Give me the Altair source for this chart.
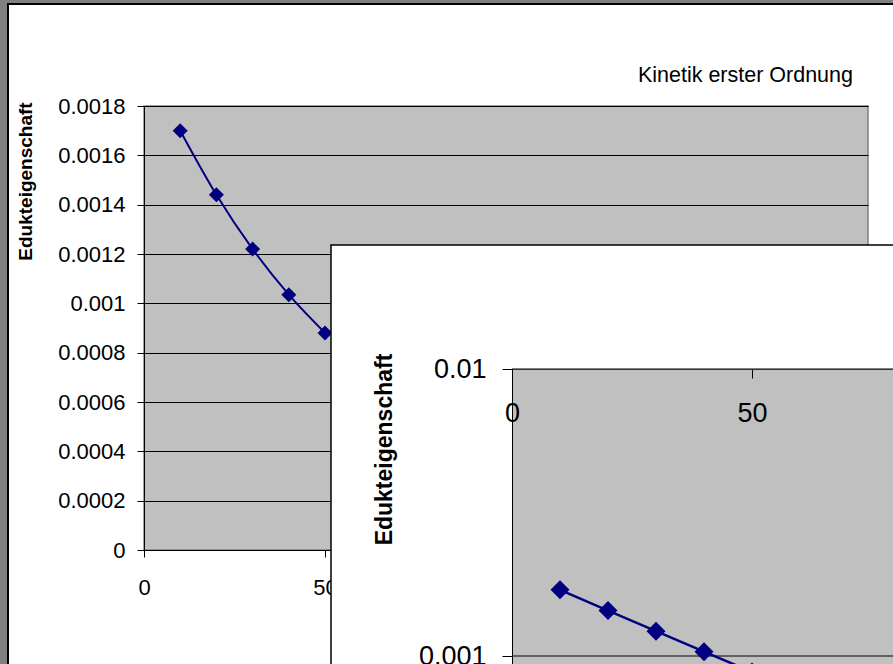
import altair as alt
import pandas as pd

# ---- data ----
time_min = [10, 20, 30, 40, 50]
edukt = [0.0017, 0.00144, 0.00122, 0.001035, 0.00088]
y_ticks_lin = [0, 0.0002, 0.0004, 0.0006, 0.0008, 0.001, 0.0012, 0.0014, 0.0016, 0.0018]
x_ticks = [0, 50, 100, 150, 200]
x_ticks_log_chart = [0, 50]
y_ticks_log = [0.001, 0.01]
title_text = "Kinetik erster Ordnung"
y_title = "Edukteigenschaft"

df = pd.DataFrame({"t": time_min, "v": edukt})
grid_df = pd.DataFrame({"g": y_ticks_log})

FONT = "Liberation Sans"
NAVY = "#000080"
GRAY = "#C0C0C0"

# main plot area (pixels) and its origin on the page
W, H = 724, 444
LEFT, TOP = 144, 106
PAGE_W, PAGE_H = 893, 664

one = alt.Data(values=[{}])


def box(x, x2, y, y2, color, **kw):
    """decoration rectangle in page pixels (converted to plot-relative)."""
    return alt.Chart(one).mark_rect(color=color, **kw).encode(
        x=alt.value(x - LEFT), x2=alt.value(x2 - LEFT),
        y=alt.value(y - TOP), y2=alt.value(y2 - TOP))


# window frame
frame = [
    box(0, 7, 0, PAGE_H, "#808080"),
    box(0, PAGE_W, 0, 3, "#808080"),
    box(7, 9, 3, PAGE_H, "black"),
    box(7, PAGE_W, 3, 5, "black"),
]

# ---- chart 1 : linear ----
x1 = alt.Scale(domain=[0, 200], nice=False)
y1 = alt.Scale(domain=[0, 0.0018], nice=False)
ax1x = alt.Axis(values=x_ticks, format="d", title=None, grid=False, tickSize=7,
                labelPadding=20, labelFontSize=22, labelFlush=False, labelColor="black",
                domainColor="black", tickColor="black")
ax1y = alt.Axis(values=y_ticks_lin, format="~g", title=y_title, grid=True,
                gridColor="black", gridOpacity=1, gridWidth=1, tickSize=7,
                labelPadding=12, labelFontSize=22, labelColor="black",
                domainColor="black", tickColor="black",
                titleFontSize=19, titleFontWeight="bold", titleColor="black",
                titleX=-119, titleY=75, titleAngle=270, titleAlign="center",
                titleBaseline="middle")

line1 = alt.Chart(df).mark_line(color=NAVY, strokeWidth=2, interpolate="monotone").encode(
    x=alt.X("t:Q", scale=x1, axis=ax1x), y=alt.Y("v:Q", scale=y1, axis=ax1y))
pts1 = alt.Chart(df).mark_point(shape="diamond", filled=True, size=225, color=NAVY, opacity=1).encode(
    x=alt.X("t:Q", scale=x1, axis=ax1x), y=alt.Y("v:Q", scale=y1, axis=ax1y))
chart1 = alt.layer(line1, pts1)

# ---- chart 2 : logarithmic, lying on top ----
x2s = alt.Scale(domain=[0, 200], range=[368, 1328], nice=False)
y2s = alt.Scale(type="log", domain=[0.0001, 0.01], range=[837, 263], nice=False)
ax2x = alt.Axis(values=x_ticks_log_chart, format="d", title=None, grid=False, orient="bottom",
                offset=-181, tickSize=9, labelPadding=22, labelFontSize=27,
                labelFlush=False, labelColor="black", domainColor="#333333",
                tickColor="black", zindex=1)
ax2y = alt.Axis(values=y_ticks_log, format="~g", title=y_title, grid=False, orient="left",
                offset=-368, tickSize=10, labelPadding=16, labelFontSize=27,
                labelColor="black", domainColor="black", tickColor="black", zindex=1,
                titleFontSize=23, titleFontWeight="bold", titleColor="black",
                titleX=-128, titleY=343, titleAngle=270, titleAlign="center",
                titleBaseline="middle")

panel2 = box(331, PAGE_W + 20, 245, PAGE_H + 20, "white", stroke="black", strokeWidth=1.5)
plot2 = alt.Chart(one).mark_rect(color=GRAY).encode(
    x=alt.X(datum=0, type="quantitative", scale=x2s, axis=ax2x), x2=alt.X2(datum=200),
    y=alt.Y(datum=0.01, type="quantitative", scale=y2s, axis=ax2y), y2=alt.Y2(datum=0.0001))
grid2 = alt.Chart(grid_df).mark_rule(color="black", strokeWidth=1).encode(
    y=alt.Y("g:Q", scale=y2s, axis=ax2y),
    x=alt.X(datum=0, type="quantitative", scale=x2s, axis=ax2x), x2=alt.X2(datum=200))
line2 = alt.Chart(df).mark_line(color=NAVY, strokeWidth=2.5).encode(
    x=alt.X("t:Q", scale=x2s, axis=ax2x), y=alt.Y("v:Q", scale=y2s, axis=ax2y))
pts2 = alt.Chart(df).mark_point(shape="diamond", filled=True, size=361, color=NAVY, opacity=1).encode(
    x=alt.X("t:Q", scale=x2s, axis=ax2x), y=alt.Y("v:Q", scale=y2s, axis=ax2y))
chart2 = alt.layer(panel2, plot2, grid2, line2, pts2)

chart = alt.layer(*frame, chart1, chart2).resolve_scale(
    x="independent", y="independent").resolve_axis(x="independent", y="independent").properties(
    width=W, height=H, autosize="none",
    padding={"left": LEFT, "top": TOP, "right": PAGE_W - LEFT - W, "bottom": PAGE_H - TOP - H},
    title=alt.TitleParams(title_text, anchor="end", frame="group", font=FONT, fontSize=21.5,
                          fontWeight="normal", color="black", dx=-15, offset=-86),
    background="white",
).configure(font=FONT).configure_view(fill=GRAY, stroke="#808080", strokeWidth=1.5)

chart.save("out.html", embed_options={"renderer": "svg", "actions": False})
